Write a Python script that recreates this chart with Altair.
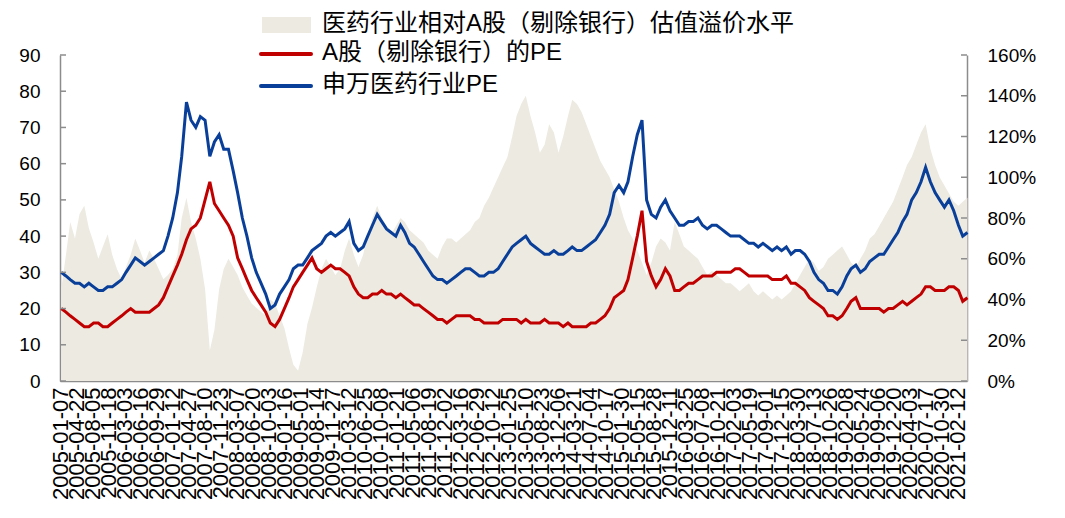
import altair as alt
import pandas as pd
from datetime import date, timedelta

# ---------------- data (monthly samples) ----------------
YEARS = list(range(2005, 2022))
MONTHS = [f"{y}-{m:02d}-15" for y in YEARS for m in range(1, 13)][:196]

# A股（剔除银行）的PE  (left axis)
RED_PE = [
    20, 19, 18, 17, 16, 15, 15, 16, 16, 15, 15, 16,   # 2005
    17, 18, 19, 20, 19, 19, 19, 19, 20, 21, 23, 26,   # 2006
    29, 32, 35, 39, 42, 43, 45, 50, 55, 49, 47, 45,   # 2007
    43, 40, 34, 31, 28, 25, 23, 21, 19, 16, 15, 17,   # 2008
    20, 23, 26, 28, 30, 32, 34, 31, 30, 31, 32, 31,   # 2009
    31, 30, 29, 26, 24, 23, 23, 24, 24, 25, 24, 24,   # 2010
    23, 24, 23, 22, 21, 21, 20, 19, 18, 17, 17, 16,   # 2011
    17, 18, 18, 18, 18, 17, 17, 16, 16, 16, 16, 17,   # 2012
    17, 17, 17, 16, 17, 16, 16, 16, 17, 16, 16, 16,   # 2013
    15, 16, 15, 15, 15, 15, 16, 16, 17, 18, 20, 23,   # 2014
    24, 25, 28, 34, 40, 47, 33, 29, 26, 28, 31, 29,   # 2015
    25, 25, 26, 27, 27, 28, 29, 29, 29, 30, 30, 30,   # 2016
    30, 31, 31, 30, 29, 29, 29, 29, 29, 28, 28, 28,   # 2017
    29, 27, 27, 26, 25, 23, 22, 21, 20, 18, 18, 17,   # 2018
    18, 20, 22, 23, 20, 20, 20, 20, 20, 19, 20, 20,   # 2019
    21, 22, 21, 22, 23, 24, 26, 26, 25, 25, 25, 26,   # 2020
    26, 25, 22, 23,                                   # 2021
]

# 申万医药行业PE  (left axis)
BLUE_PE = [
    30, 29, 28, 27, 27, 26, 27, 26, 25, 25, 26, 26,   # 2005
    27, 28, 30, 32, 34, 33, 32, 33, 34, 35, 36, 40,   # 2006
    45, 52, 62, 77, 72, 70, 73, 72, 62, 66, 68, 64,   # 2007
    64, 58, 52, 45, 40, 34, 30, 27, 24, 20, 21, 24,   # 2008
    26, 28, 31, 32, 32, 34, 36, 37, 38, 40, 41, 40,   # 2009
    41, 42, 44, 38, 36, 37, 40, 43, 46, 44, 42, 41,   # 2010
    40, 43, 41, 38, 37, 35, 33, 31, 29, 28, 28, 27,   # 2011
    28, 29, 30, 31, 31, 30, 29, 29, 30, 30, 31, 33,   # 2012
    35, 37, 38, 39, 40, 38, 37, 36, 35, 35, 36, 35,   # 2013
    35, 36, 37, 36, 36, 37, 38, 39, 41, 43, 46, 52,   # 2014
    54, 52, 55, 62, 68, 72, 50, 46, 45, 48, 50, 47,   # 2015
    45, 43, 43, 44, 44, 45, 43, 42, 43, 43, 42, 41,   # 2016
    40, 40, 40, 39, 38, 38, 37, 38, 37, 36, 37, 36,   # 2017
    37, 35, 36, 36, 35, 33, 30, 28, 27, 25, 25, 24,   # 2018
    26, 29, 31, 32, 30, 31, 33, 34, 35, 35, 37, 39,   # 2019
    41, 44, 46, 50, 52, 55, 59, 55, 52, 50, 48, 50,   # 2020
    47, 43, 40, 41,                                   # 2021
]

# 医药行业相对A股（剔除银行）估值溢价水平  (right axis, fraction)
PREMIUM = [
    0.45, 0.62, 0.78, 0.70, 0.82, 0.86, 0.75, 0.68, 0.60, 0.66, 0.72, 0.62,  # 2005
    0.55, 0.50, 0.56, 0.62, 0.70, 0.64, 0.58, 0.64, 0.60, 0.55, 0.50, 0.52,  # 2006
    0.55, 0.62, 0.80, 0.90, 0.78, 0.70, 0.60, 0.45, 0.15, 0.25, 0.45, 0.55,  # 2007
    0.60, 0.56, 0.52, 0.46, 0.42, 0.38, 0.36, 0.34, 0.32, 0.40, 0.38, 0.32,  # 2008
    0.26, 0.16, 0.08, 0.05, 0.14, 0.28, 0.36, 0.46, 0.55, 0.60, 0.56, 0.52,  # 2009
    0.55, 0.64, 0.70, 0.62, 0.56, 0.62, 0.72, 0.80, 0.86, 0.80, 0.76, 0.72,  # 2010
    0.76, 0.80, 0.78, 0.74, 0.72, 0.70, 0.68, 0.64, 0.62, 0.60, 0.66, 0.70,  # 2011
    0.70, 0.68, 0.70, 0.72, 0.74, 0.78, 0.80, 0.86, 0.90, 0.95, 1.00, 1.05,  # 2012
    1.10, 1.20, 1.30, 1.36, 1.40, 1.30, 1.22, 1.12, 1.16, 1.26, 1.22, 1.12,  # 2013
    1.20, 1.30, 1.38, 1.36, 1.32, 1.26, 1.20, 1.14, 1.08, 1.04, 1.00, 0.94,  # 2014
    0.88, 0.80, 0.74, 0.70, 0.64, 0.58, 0.52, 0.58, 0.66, 0.70, 0.68, 0.64,  # 2015
    0.78, 0.72, 0.66, 0.64, 0.62, 0.60, 0.56, 0.52, 0.54, 0.52, 0.50, 0.48,  # 2016
    0.48, 0.46, 0.44, 0.46, 0.48, 0.44, 0.42, 0.44, 0.42, 0.40, 0.42, 0.40,  # 2017
    0.42, 0.44, 0.48, 0.52, 0.56, 0.60, 0.58, 0.54, 0.56, 0.60, 0.62, 0.64,  # 2018
    0.66, 0.62, 0.58, 0.56, 0.60, 0.64, 0.70, 0.72, 0.76, 0.80, 0.84, 0.88,  # 2019
    0.94, 1.00, 1.06, 1.10, 1.16, 1.22, 1.26, 1.14, 1.06, 1.00, 0.96, 0.92,  # 2020
    0.88, 0.86, 0.88, 0.90,                                                  # 2021
]

# tick labels on the date axis: every 15 weekly observations from 2005-01-07
TICK_DATES = [(date(2005, 1, 7) + timedelta(days=105 * i)).isoformat() for i in range(57)]
LEFT_TICKS = [0, 10, 20, 30, 40, 50, 60, 70, 80, 90]
RIGHT_TICKS = [0, 0.2, 0.4, 0.6, 0.8, 1.0, 1.2, 1.4, 1.6]

LEG_AREA = "医药行业相对A股（剔除银行）估值溢价水平"
LEG_RED = "A股（剔除银行）的PE"
LEG_BLUE = "申万医药行业PE"

# ---------------- styling ----------------
W, H = 907, 326
GRAY = "#8c8c8c"
BEIGE = "#ECEAE1"
RED = "#C00000"
BLUE = "#0A3F99"
FONT = "Liberation Sans, Arial, Noto Sans CJK SC"

df = pd.DataFrame({"date": MONTHS, "red": RED_PE, "blue": BLUE_PE, "prem": PREMIUM})


def dt(s):
    y, m, d = (int(p) for p in s.split("-"))
    return alt.DateTime(year=y, month=m, date=d, utc=True)


x_enc = alt.X(
    "date:T",
    scale=alt.Scale(type="utc", domain=[dt("2005-01-07"), dt("2021-04-12")]),
    axis=alt.Axis(
        values=[dt(s) for s in TICK_DATES],
        labelExpr="utcFormat(datum.value, '%Y-%m-%d')",
        labelAngle=270,
        labelOverlap=False,
        labelFlush=False,
        labelFont=FONT,
        labelFontSize=22,
        labelColor="#000000",
        labelPadding=6,
        ticks=False,
        grid=False,
        domainColor=GRAY,
        domainWidth=1.5,
        title=None,
    ),
)

right_axis = alt.Axis(
    orient="right",
    values=RIGHT_TICKS,
    format=".0%",
    labelFont=FONT,
    labelFontSize=19,
    labelColor="#000000",
    labelPadding=20,
    ticks=False,
    grid=False,
    domainColor=GRAY,
    domainWidth=1.5,
    title=None,
)
left_axis = alt.Axis(
    orient="left",
    values=LEFT_TICKS,
    labelFont=FONT,
    labelFontSize=19,
    labelColor="#000000",
    labelPadding=20,
    ticks=False,
    grid=False,
    domainColor=GRAY,
    domainWidth=1.5,
    title=None,
)
right_y = alt.Scale(domain=[0, 1.6], nice=False, zero=True)
left_y = alt.Scale(domain=[0, 90], nice=False, zero=True)

base = alt.Chart(df)

area = base.mark_area(color=BEIGE, opacity=1).encode(
    x=x_enc, y=alt.Y("prem:Q", scale=right_y, axis=right_axis)
)
right_ticks = alt.Chart(pd.DataFrame({"v": RIGHT_TICKS})).mark_rule(
    color=GRAY, strokeWidth=1.5
).encode(y=alt.Y("v:Q", scale=right_y, axis=right_axis), x=alt.value(W), x2=alt.value(W - 6))

red_line = base.mark_line(color=RED, strokeWidth=3).encode(
    x=x_enc, y=alt.Y("red:Q", scale=left_y, axis=left_axis)
)
blue_line = base.mark_line(color=BLUE, strokeWidth=3).encode(
    x=x_enc, y=alt.Y("blue:Q", scale=left_y, axis=left_axis)
)
left_ticks = alt.Chart(pd.DataFrame({"v": LEFT_TICKS})).mark_rule(
    color=GRAY, strokeWidth=1.5
).encode(y=alt.Y("v:Q", scale=left_y, axis=left_axis), x=alt.value(0), x2=alt.value(6))

right_group = alt.layer(area, right_ticks)
left_group = alt.layer(red_line, blue_line, left_ticks)

one = pd.DataFrame({"a": [0]})
leg_area_sw = alt.Chart(one).mark_rect(color=BEIGE).encode(
    x=alt.value(202), x2=alt.value(251), y=alt.value(-38), y2=alt.value(-22)
)
leg_red_sw = alt.Chart(one).mark_rule(color=RED, strokeWidth=4, strokeCap="round").encode(
    x=alt.value(201), x2=alt.value(251), y=alt.value(-1)
)
leg_blue_sw = alt.Chart(one).mark_rule(color=BLUE, strokeWidth=4, strokeCap="round").encode(
    x=alt.value(201), x2=alt.value(251), y=alt.value(31)
)
txt = dict(align="left", baseline="middle", font=FONT, fontSize=24, color="#000000")
leg_area_tx = alt.Chart(one).mark_text(**txt).encode(
    x=alt.value(262), y=alt.value(-31), text=alt.value(LEG_AREA)
)
leg_red_tx = alt.Chart(one).mark_text(**txt).encode(
    x=alt.value(262), y=alt.value(-2), text=alt.value(LEG_RED)
)
leg_blue_tx = alt.Chart(one).mark_text(**txt).encode(
    x=alt.value(262), y=alt.value(30), text=alt.value(LEG_BLUE)
)

chart = (
    alt.layer(
        right_group,
        left_group,
        leg_area_sw, leg_red_sw, leg_blue_sw,
        leg_area_tx, leg_red_tx, leg_blue_tx,
    )
    .resolve_scale(y="independent")
    .properties(
        width=W,
        height=H,
        autosize=alt.AutoSizeParams(type="none"),
        padding={"left": 60, "top": 55, "right": 98, "bottom": 137},
        background="#ffffff",
    )
    .configure_view(stroke=None)
)

chart.save("out.html", embed_options={"renderer": "svg", "actions": False})
